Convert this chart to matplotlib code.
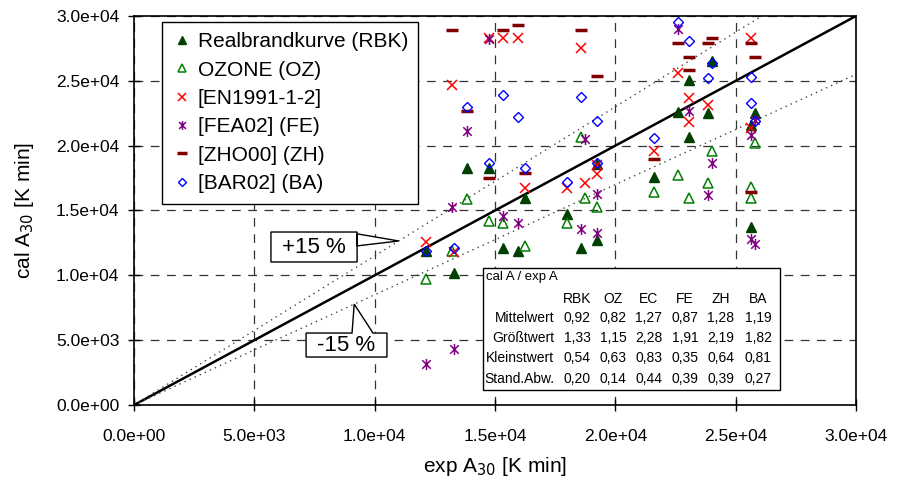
import numpy as np
import matplotlib
matplotlib.use("Agg")
import matplotlib.pyplot as plt
from matplotlib.path import Path
from matplotlib.patches import Polygon, Rectangle

plt.rcParams['font.family'] = ['Liberation Sans', 'DejaVu Sans']

# exp A30 / cal A30 values in K min (x1000)
rbk_x = [12.13, 13.30, 13.84, 14.75, 15.33, 15.96, 16.25, 17.99, 18.57, 19.24, 19.24, 21.60, 22.60, 23.06, 23.06, 23.85, 24.02, 25.64, 25.64, 25.80]
rbk_y = [11.90, 10.20, 18.30, 18.30, 12.10, 11.90, 16.00, 14.70, 12.10, 12.70, 18.60, 17.60, 22.60, 25.10, 20.70, 22.50, 26.50, 21.60, 13.70, 22.50]

oz_x = [12.13, 13.20, 13.84, 14.75, 15.33, 16.25, 17.99, 18.57, 18.74, 19.24, 21.60, 22.60, 23.06, 23.85, 24.02, 25.64, 25.64, 25.80]
oz_y = [9.70, 11.90, 15.90, 14.20, 14.00, 12.30, 14.00, 20.70, 16.00, 15.30, 16.40, 17.70, 16.00, 17.10, 19.60, 16.80, 16.00, 20.20]

ec_x = [12.13, 13.20, 13.30, 14.75, 15.33, 15.96, 16.25, 17.99, 18.57, 18.74, 19.24, 19.24, 21.60, 22.60, 23.06, 23.06, 23.85, 25.64, 25.64]
ec_y = [12.60, 24.70, 11.80, 28.30, 28.30, 28.30, 16.70, 16.70, 27.50, 17.10, 18.50, 17.80, 19.60, 25.60, 23.70, 21.80, 23.10, 28.30, 21.40]

fe_x = [12.13, 13.30, 13.20, 13.84, 14.75, 15.33, 15.96, 18.57, 18.74, 19.24, 19.24, 22.60, 23.06, 23.85, 24.02, 25.64, 25.64, 25.80, 25.80]
fe_y = [3.20, 4.30, 15.30, 21.10, 28.20, 14.60, 14.00, 13.60, 20.50, 16.30, 13.30, 29.00, 22.70, 16.20, 18.70, 20.80, 12.80, 22.00, 12.40]

zh_x = [13.20, 13.84, 14.75, 15.33, 15.96, 16.25, 18.57, 19.24, 21.60, 22.60, 23.06, 23.06, 23.85, 24.02, 25.64, 25.64, 25.80]
zh_y = [28.90, 22.70, 17.50, 28.90, 29.30, 17.90, 28.90, 25.40, 19.00, 27.90, 26.80, 25.80, 27.90, 28.30, 27.90, 16.40, 26.80]

ba_x = [12.13, 13.30, 13.84, 14.75, 15.33, 15.96, 16.25, 17.99, 18.57, 19.24, 19.24, 21.60, 22.60, 23.06, 23.85, 24.02, 25.64, 25.64, 25.80]
ba_y = [11.90, 12.10, 23.00, 18.70, 23.90, 22.20, 18.30, 17.20, 23.75, 21.90, 18.70, 20.60, 29.50, 28.10, 25.20, 26.40, 25.30, 23.30, 21.90]

# summary table cal A / exp A
table_cols = ['RBK', 'OZ', 'EC', 'FE', 'ZH', 'BA']
table_rows = ['Mittelwert', 'Größtwert', 'Kleinstwert', 'Stand.Abw.']
table_vals = [
    ['0,92', '0,82', '1,27', '0,87', '1,28', '1,19'],
    ['1,33', '1,15', '2,28', '1,91', '2,19', '1,82'],
    ['0,54', '0,63', '0,83', '0,35', '0,64', '0,81'],
    ['0,20', '0,14', '0,44', '0,39', '0,39', '0,27'],
]

# asterisk marker: x plus vertical bar
asterisk = Path([(-1, -1), (1, 1), (-1, 1), (1, -1), (0, -1.3), (0, 1.3)],
                [Path.MOVETO, Path.LINETO, Path.MOVETO, Path.LINETO, Path.MOVETO, Path.LINETO])

fig = plt.figure(figsize=(8.97, 4.82), dpi=100)
ax = fig.add_axes([134 / 897, 1 - 405 / 482, 722 / 897, 389 / 482])

ax.set_xlim(0, 30000)
ax.set_ylim(0, 30000)

ticks = np.arange(0, 30001, 5000)
ax.set_xticks(ticks)
ax.set_yticks(ticks)
ax.set_xticklabels([f'{t:.1e}' for t in ticks], fontsize=12.5)
ax.set_yticklabels([f'{t:.1e}' for t in ticks], fontsize=12.5)
ax.tick_params(direction='inout', length=9, width=1)
ax.tick_params(axis='x', pad=13)
ax.tick_params(axis='y', pad=6)
for s in ax.spines.values():
    s.set_linewidth(1.2)

ax.grid(True, color='#333333', linestyle=(0, (7, 6)), linewidth=0.9)
ax.set_axisbelow(True)

# reference lines
ref = np.array([0, 30000])
ax.plot(ref, ref, color='black', linewidth=1.8, zorder=2)
ax.plot(ref, ref * 1.15, color='#444444', linestyle=(0, (1, 3)), linewidth=1.0, zorder=2)
ax.plot(ref, ref * 0.85, color='#444444', linestyle=(0, (1, 3)), linewidth=1.0, zorder=2)

k = 1000
ax.plot(np.array(rbk_x) * k, np.array(rbk_y) * k, '^', ms=7, color='#004000', mec='#004000', ls='none',
        label='Realbrandkurve (RBK)', zorder=3)
ax.plot(np.array(oz_x) * k, np.array(oz_y) * k, '^', ms=7, mfc='none', mec='#008000', mew=1.1, ls='none',
        label='OZONE (OZ)', zorder=3)
ax.plot(np.array(ec_x) * k, np.array(ec_y) * k, 'x', ms=7, color='#ff0000', mew=1.1, ls='none',
        label='[EN1991-1-2]', zorder=3)
ax.plot(np.array(fe_x) * k, np.array(fe_y) * k, marker=asterisk, ms=8, color='#800080', mew=1.1, ls='none',
        label='[FEA02] (FE)', zorder=3)
ax.plot(np.array(zh_x) * k, np.array(zh_y) * k, '_', ms=9, color='#800000', mew=2.5, ls='none',
        label='[ZHO00] (ZH)', zorder=3)
ax.plot(np.array(ba_x) * k, np.array(ba_y) * k, 'D', ms=5.5, mfc='none', mec='#0000ff', mew=1.0, ls='none',
        label='[BAR02] (BA)', zorder=3)

leg = ax.legend(loc='upper left', bbox_to_anchor=(0.039, 0.985), fontsize=15, frameon=True,
                fancybox=False, framealpha=1, edgecolor='black', handlelength=0.9,
                handletextpad=0.3, labelspacing=0.45, borderpad=0.5, borderaxespad=0, markerscale=0.8)
leg.get_frame().set_linewidth(1.0)
leg.set_zorder(5)

ax.set_xlabel('exp A$_{30}$ [K min]', fontsize=15, labelpad=8)
ax.set_ylabel('cal A$_{30}$ [K min]', fontsize=15, labelpad=14)


# callout labels for the +/-15 % lines
def callout(box, base, tip, text):
    x0, y0, x1, y1 = box
    pts = [(x0, y0), (x1, y0)]
    if base[0] == 'right':
        pts += [(x1, base[1]), tip, (x1, base[2]), (x1, y1), (x0, y1)]
    else:
        pts += [(x1, y1), (base[2], y1), tip, (base[1], y1), (x0, y1)]
    ax.add_patch(Polygon(pts, closed=True, facecolor='white', edgecolor='black', linewidth=1.0, zorder=4))
    ax.text((x0 + x1) / 2, (y0 + y1) / 2, text, ha='center', va='center', fontsize=16, zorder=5)


callout((5690, 11030, 9270, 13340), ('right', 13200, 12270), (11000, 12650), '+15 %')
callout((7150, 3700, 10510, 5550), ('top', 9060, 9930), (9150, 7780), '-15 %')

# summary table
tx0, ty0 = (483 - 134) / 722, (405 - 390) / 389
tx1, ty1 = (780 - 134) / 722, (405 - 268) / 389
ax.add_patch(Rectangle((tx0, ty0), tx1 - tx0, ty1 - ty0, transform=ax.transAxes, facecolor='white',
                       edgecolor='black', linewidth=1.0, zorder=5))


def axfrac(px, py):
    return (px - 134) / 722, (405 - py) / 389


ax.text(*axfrac(486, 277), 'cal A / exp A', fontsize=9.5, ha='left', va='center',
        transform=ax.transAxes, zorder=6)
col_px = [577, 613, 649, 685, 721, 758]
row_py = [318, 338, 358, 379]
for j, c in enumerate(table_cols):
    ax.text(*axfrac(col_px[j], 299), c, fontsize=10, ha='center', va='center',
            transform=ax.transAxes, zorder=6)
for i, r in enumerate(table_rows):
    ax.text(*axfrac(554, row_py[i]), r, fontsize=10, ha='right', va='center',
            transform=ax.transAxes, zorder=6)
    for j, v in enumerate(table_vals[i]):
        ax.text(*axfrac(col_px[j], row_py[i]), v, fontsize=10, ha='center', va='center',
                transform=ax.transAxes, zorder=6)

fig.savefig('out.png', dpi=100)
